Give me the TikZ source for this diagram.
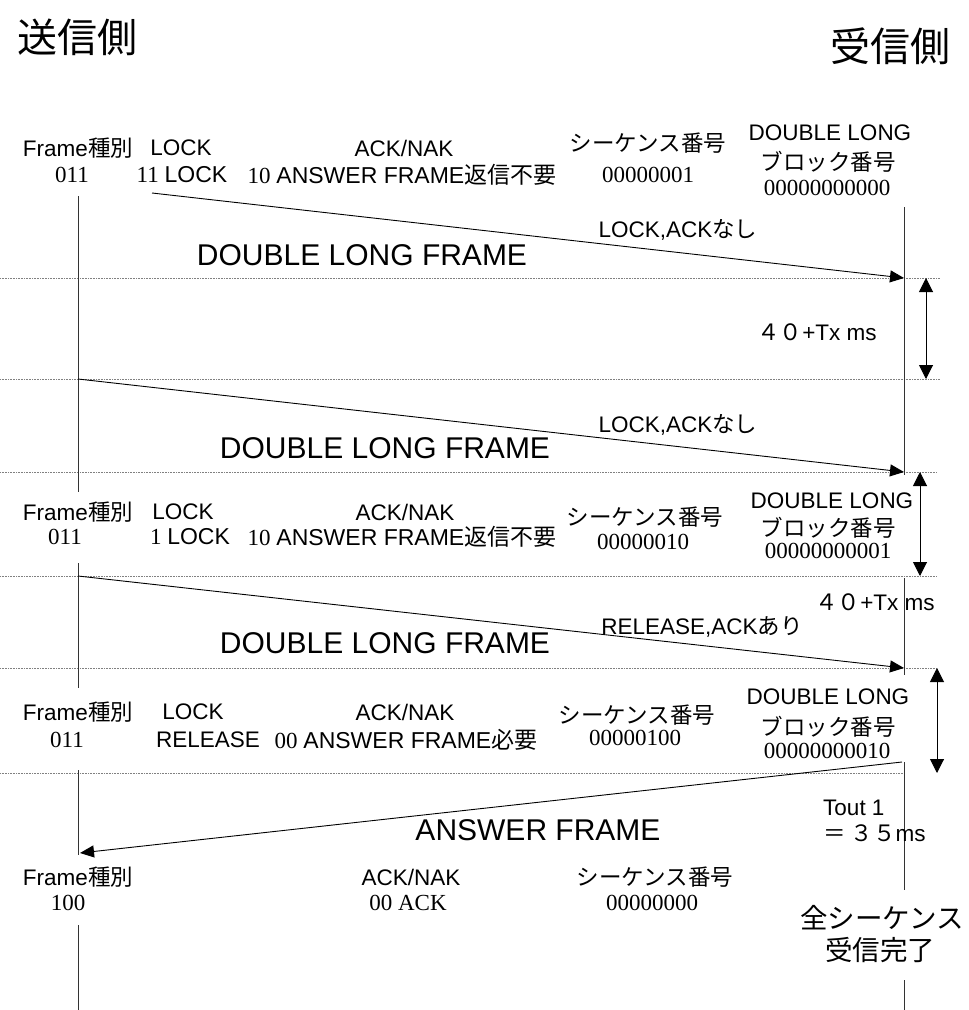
\documentclass[tikz,border=0pt]{standalone}
\usepackage{fontspec}
\setmainfont{Liberation Serif}
\setsansfont{Liberation Sans}
\newfontfamily\jp{Noto Sans CJK JP}
\usepackage{tikz}
\usetikzlibrary{arrows.meta, positioning}

\begin{document}
\begin{tikzpicture}[x=1pt, y=-1pt,
    sf/.style={font=\sffamily\fontsize{22.5}{24}\selectfont, inner sep=0pt},
    rm/.style={font=\rmfamily\fontsize{23}{24}\selectfont, inner sep=0pt},
    big/.style={font=\sffamily\fontsize{30}{32}\selectfont, inner sep=0pt},
    side/.style={font=\jp\fontsize{40}{42}\selectfont, inner sep=0pt},
    life/.style={draw=black!80, line width=0.8pt},
    slot/.style={draw=black!50, densely dotted, line width=0.6pt},
    sig/.style={-{Triangle[length=14pt,width=12pt]}, line width=0.9pt},
    dur/.style={{Triangle[length=14pt,width=14pt]}-{Triangle[length=14pt,width=14pt]}, line width=1pt}]
    \useasboundingbox (0,0) rectangle (969,1010);

    % sides
    \node[side] (tx) at (77,37) {送信側};
    \node[side] (rx) at (890,46) {受信側};

    % time slots
    \foreach \y/\xe in {278/940, 379/940, 472/937, 576/937, 668/937, 773/905}
      \draw[slot] (0,\y) -- (\xe,\y);

    % lifelines
    \coordinate (L0) at (78,196);  \coordinate (L1) at (78,492);
    \coordinate (L2) at (78,563);  \coordinate (L3) at (78,688);
    \coordinate (L4) at (78,770);  \coordinate (L5) at (78,855);
    \coordinate (L6) at (78,925);  \coordinate (L7) at (78,1010);
    \coordinate (R0) at (904,207); \coordinate (R1) at (904,475);
    \coordinate (R2) at (904,578); \coordinate (R3) at (904,675);
    \coordinate (R4) at (904,762); \coordinate (R5) at (904,890);
    \coordinate (R6) at (904,980); \coordinate (R7) at (904,1010);
    \draw[life] (L0) -- (L1) (L2) -- (L3) (L4) -- (L5) (L6) -- (L7);
    \draw[life] (R0) -- (R1) (R2) -- (R3) (R4) -- (R5) (R6) -- (R7);

    % frame 1
    \node[sf] (f1k) at (78,148) {Frame{\jp 種別}};
    \node[rm] (f1v) at (72,175) {011};
    \node[sf] (l1k) at (181,148) {LOCK};
    \node[rm] (l1v) at (182,175) {11 \textsf{LOCK}};
    \node[sf] (a1k) at (404,148) {ACK/NAK};
    \node[rm] (a1v) at (402,175) {10 \textsf{ANSWER FRAME{\jp 返信不要}}};
    \node[sf] (q1k) at (648,143) {\jp シーケンス番号};
    \node[rm] (q1v) at (648,175) {00000001};
    \node[sf] (b1k) at (830,133) {DOUBLE LONG};
    \node[sf] (b1j) at (828,162) {\jp ブロック番号};
    \node[rm] (b1v) at (827,188) {00000000000};

    % frame 2
    \node[sf] (f2k) at (78,512) {Frame{\jp 種別}};
    \node[rm] (f2v) at (65,537) {011};
    \node[sf] (l2k) at (183,512) {LOCK};
    \node[rm] (l2v) at (190,537) {1 \textsf{LOCK}};
    \node[sf] (a2k) at (405,512) {ACK/NAK};
    \node[rm] (a2v) at (402,537) {10 \textsf{ANSWER FRAME{\jp 返信不要}}};
    \node[sf] (q2k) at (645,517) {\jp シーケンス番号};
    \node[rm] (q2v) at (643,542) {00000010};
    \node[sf] (b2k) at (832,501) {DOUBLE LONG};
    \node[sf] (b2j) at (828,528) {\jp ブロック番号};
    \node[rm] (b2v) at (828,551) {00000000001};

    % frame 3
    \node[sf] (f3k) at (78,712) {Frame{\jp 種別}};
    \node[rm] (f3v) at (67,740) {011};
    \node[sf] (l3k) at (193,712) {LOCK};
    \node[sf] (l3v) at (208,740) {RELEASE};
    \node[sf] (a3k) at (405,712) {ACK/NAK};
    \node[rm] (a3v) at (406,740) {00 \textsf{ANSWER FRAME{\jp 必要}}};
    \node[sf] (q3k) at (637,715) {\jp シーケンス番号};
    \node[rm] (q3v) at (635,738) {00000100};
    \node[sf] (b3k) at (828,697) {DOUBLE LONG};
    \node[sf] (b3j) at (828,727) {\jp ブロック番号};
    \node[rm] (b3v) at (827,751) {00000000010};

    % answer frame
    \node[sf] (f4k) at (78,877) {Frame{\jp 種別}};
    \node[rm] (f4v) at (68,903) {100};
    \node[sf] (a4k) at (411,877) {ACK/NAK};
    \node[rm] (a4v) at (408,903) {00 ACK};
    \node[sf] (q4k) at (655,877) {\jp シーケンス番号};
    \node[rm] (q4v) at (652,903) {00000000};

    % transfers
    \coordinate (s1) at (152,193); \coordinate (e1) at (904,278);
    \coordinate (s2) at (78,379);  \coordinate (e2) at (904,472);
    \coordinate (s3) at (78,576);  \coordinate (e3) at (904,668);
    \coordinate (s4) at (902,762); \coordinate (e4) at (80,853);
    \draw[sig] (s1) -- (e1);
    \draw[sig] (s2) -- (e2);
    \draw[sig] (s3) -- (e3);
    \draw[sig] (s4) -- (e4);

    \node[sf] (m1) at (678,230) {LOCK,ACK{\jp なし}};
    \node[big] (d1) at (362,255) {DOUBLE LONG FRAME};
    \node[sf] (m2) at (678,425) {LOCK,ACK{\jp なし}};
    \node[big] (d2) at (385,448) {DOUBLE LONG FRAME};
    \node[sf] (m3) at (702,627) {RELEASE,ACK{\jp あり}};
    \node[big] (d3) at (385,643) {DOUBLE LONG FRAME};
    \node[big] (d4) at (538,830) {ANSWER FRAME};

    % intervals
    \coordinate (g1a) at (926,278); \coordinate (g1b) at (926,379);
    \coordinate (g2a) at (920,472); \coordinate (g2b) at (920,576);
    \coordinate (g3a) at (937,668); \coordinate (g3b) at (937,773);
    \draw[dur] (g1a) -- (g1b);
    \draw[dur] (g2a) -- (g2b);
    \draw[dur] (g3a) -- (g3b);
    \node[sf] (w1) at (817,332) {{\jp ４０}+Tx ms};
    \node[sf] (w2) at (875,602) {{\jp ４０}+Tx ms};
    \node[sf, anchor=west] (o1) at (823,808) {Tout 1};
    \node[sf, anchor=west] (o2) at (823,833) {{\jp ＝ ３５}ms};
    \node[font=\jp\fontsize{27.5}{30}\selectfont, inner sep=0pt] (c1) at (882,918) {全シーケンス};
    \node[font=\jp\fontsize{27.5}{30}\selectfont, inner sep=0pt] (c2) at (880,950) {受信完了};
\end{tikzpicture}
\end{document}
